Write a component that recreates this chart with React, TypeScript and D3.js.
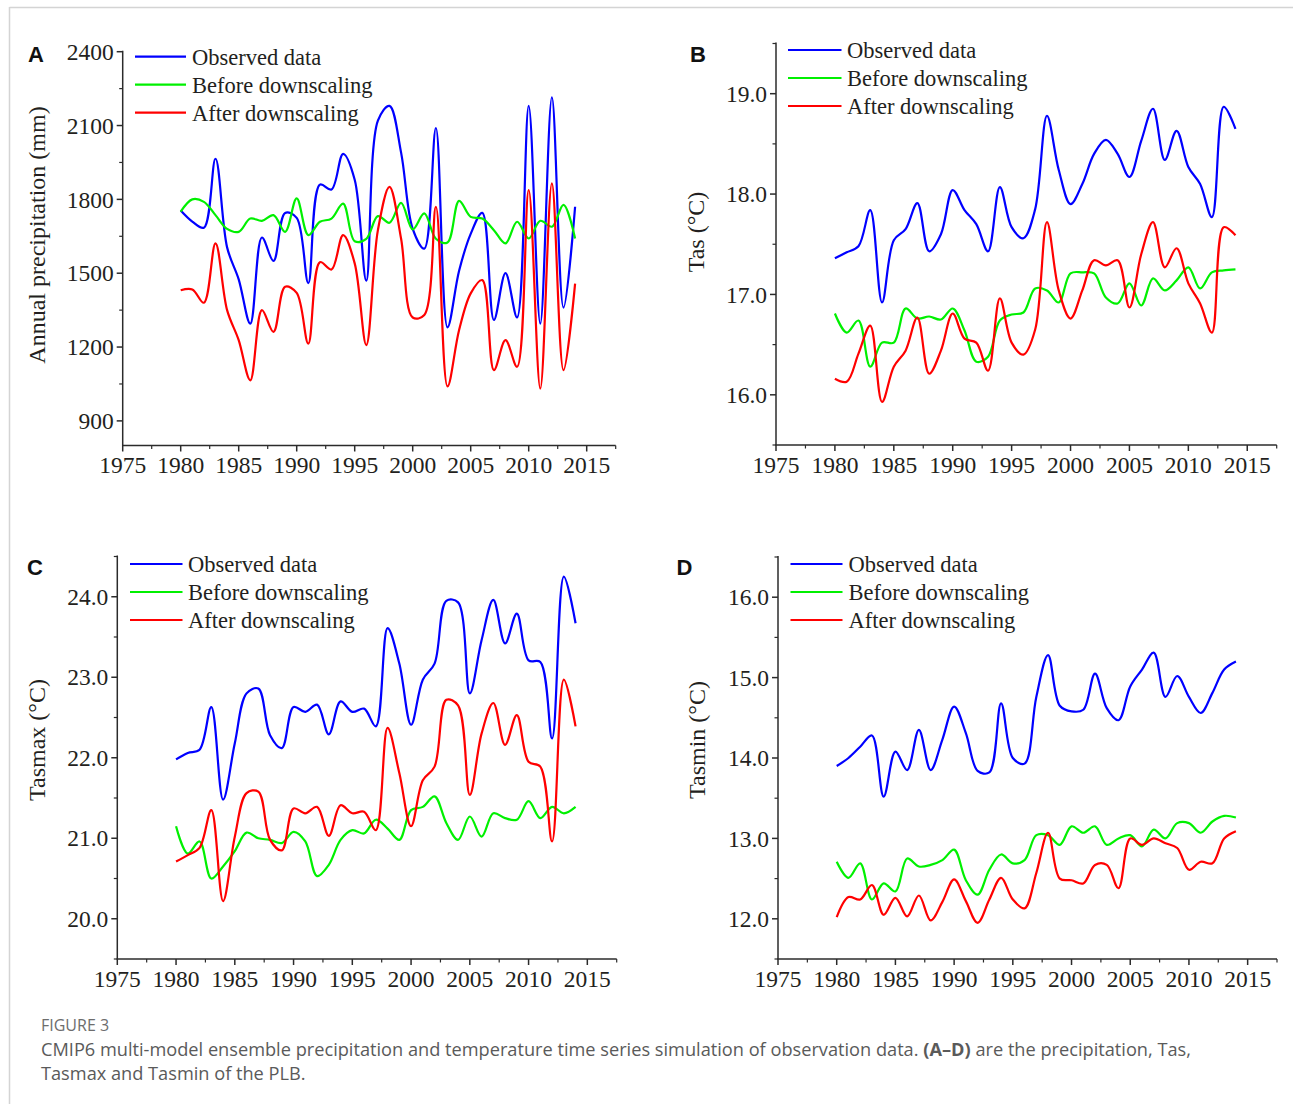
import React from 'react';
import * as d3 from 'd3';

// Years of the simulation period
const years = d3.range(1980, 2015);

// (A) Annual precipitation (mm)
const precipObserved = [
  1755, 1710, 1685, 1965, 1605, 1475, 1295, 1645, 1550, 1745,
  1725, 1460, 1860, 1840, 1985, 1880, 1470, 2120, 2180, 1990,
  1680, 1600, 2090, 1280, 1510, 1660, 1745, 1310, 1500, 1320,
  2180, 1295, 2215, 1360, 1770,
];
const precipBefore = [
  1750, 1800, 1790, 1736, 1680, 1668, 1722, 1713, 1736, 1668,
  1804, 1655, 1709, 1722, 1783, 1630, 1640, 1732, 1705, 1786,
  1678, 1743, 1640, 1625, 1794, 1729, 1722, 1675, 1621, 1709,
  1641, 1713, 1689, 1778, 1641,
];
const precipAfter = [
  1431, 1434, 1380, 1621, 1350, 1228, 1065, 1350, 1262, 1445,
  1420, 1214, 1545, 1515, 1655, 1540, 1208, 1675, 1851, 1640,
  1320, 1330, 1770, 1040, 1269, 1418, 1472, 1106, 1228, 1120,
  1838, 1031, 1865, 1106, 1458,
];

// (B) Tas (°C)
const tasObserved = [
  17.36, 17.42, 17.48, 17.84, 16.92, 17.54, 17.65, 17.91, 17.43, 17.60,
  18.04, 17.84, 17.70, 17.43, 18.07, 17.67, 17.56, 17.85, 18.78, 18.24,
  17.90, 18.10, 18.40, 18.54, 18.40, 18.17, 18.53, 18.85, 18.34, 18.63,
  18.27, 18.10, 17.77, 18.87, 18.65,
];
const tasBefore = [
  16.81, 16.62, 16.74, 16.28, 16.52, 16.52, 16.86, 16.76, 16.78, 16.75,
  16.86, 16.64, 16.33, 16.38, 16.74, 16.80, 16.82, 17.06, 17.04, 16.92,
  17.21, 17.22, 17.21, 16.97, 16.91, 17.11, 16.89, 17.16, 17.04, 17.14,
  17.27, 17.06, 17.22, 17.24, 17.25,
];
const tasAfter = [
  16.16, 16.13, 16.41, 16.69, 15.93, 16.28, 16.44, 16.77, 16.21, 16.44,
  16.81, 16.56, 16.52, 16.24, 16.96, 16.52, 16.40, 16.65, 17.72, 17.04,
  16.76, 17.04, 17.34, 17.29, 17.34, 16.87, 17.40, 17.72, 17.27, 17.46,
  17.11, 16.91, 16.62, 17.67, 17.59,
];

// (C) Tasmax (°C)
const tasmaxObserved = [
  21.98, 22.06, 22.10, 22.63, 21.48, 22.18, 22.80, 22.86, 22.28, 22.12,
  22.63, 22.57, 22.66, 22.29, 22.70, 22.57, 22.61, 22.39, 23.61, 23.17,
  22.41, 22.97, 23.17, 23.95, 23.93, 22.80, 23.46, 23.96, 23.42, 23.79,
  23.21, 23.19, 22.24, 24.25, 23.67,
];
const tasmaxBefore = [
  21.15, 20.81, 20.96, 20.50, 20.65, 20.84, 21.07, 21.00, 20.98, 20.94,
  21.08, 20.96, 20.53, 20.67, 20.98, 21.10, 21.06, 21.23, 21.12, 20.98,
  21.35, 21.39, 21.52, 21.19, 20.98, 21.27, 21.02, 21.31, 21.25, 21.23,
  21.46, 21.25, 21.39, 21.31, 21.39,
];
const tasmaxAfter = [
  20.71, 20.79, 20.88, 21.35, 20.22, 21.02, 21.56, 21.58, 20.98, 20.85,
  21.37, 21.31, 21.39, 21.03, 21.41, 21.31, 21.33, 21.10, 22.37, 21.81,
  21.15, 21.72, 21.89, 22.72, 22.65, 21.54, 22.30, 22.68, 22.16, 22.53,
  21.95, 21.89, 20.96, 22.97, 22.39,
];

// (D) Tasmin (°C)
const tasminObserved = [
  13.90, 14.00, 14.14, 14.28, 13.52, 14.08, 13.85, 14.35, 13.85, 14.23,
  14.64, 14.31, 13.84, 13.82, 14.68, 14.00, 13.93, 14.76, 15.28, 14.65,
  14.58, 14.60, 15.05, 14.62, 14.47, 14.89, 15.10, 15.31, 14.76, 15.02,
  14.76, 14.56, 14.81, 15.10, 15.20,
];
const tasminBefore = [
  12.71, 12.51, 12.69, 12.24, 12.44, 12.34, 12.75, 12.65, 12.67, 12.73,
  12.86, 12.48, 12.30, 12.61, 12.80, 12.69, 12.73, 13.04, 13.04, 12.92,
  13.15, 13.07, 13.15, 12.92, 13.00, 13.04, 12.90, 13.11, 13.00, 13.19,
  13.19, 13.07, 13.21, 13.28, 13.26,
];
const tasminAfter = [
  12.02, 12.27, 12.24, 12.42, 12.05, 12.26, 12.03, 12.29, 11.98, 12.21,
  12.49, 12.22, 11.95, 12.24, 12.51, 12.24, 12.13, 12.57, 13.07, 12.50,
  12.48, 12.44, 12.67, 12.67, 12.38, 13.00, 12.92, 13.00, 12.94, 12.88,
  12.61, 12.71, 12.69, 13.00, 13.09,
];

// Axis ticks
const xMajorTicks = [1975, 1980, 1985, 1990, 1995, 2000, 2005, 2010, 2015];
const xMinorTicks = [1977.5, 1982.5, 1987.5, 1992.5, 1997.5, 2002.5, 2007.5, 2012.5, 2017.5];
const precipMajorTicks = [900, 1200, 1500, 1800, 2100, 2400];
const precipMinorTicks = [1050, 1350, 1650, 1950, 2250];
const tasMajorTicks = [16, 17, 18, 19];
const tasMinorTicks = [15.5, 16.5, 17.5, 18.5, 19.5];
const tasmaxMajorTicks = [20, 21, 22, 23, 24];
const tasmaxMinorTicks = [19.5, 20.5, 21.5, 22.5, 23.5, 24.5];
const tasminMajorTicks = [12, 13, 14, 15, 16];
const tasminMinorTicks = [11.5, 12.5, 13.5, 14.5, 15.5, 16.5];

const seriesNames = ['Observed data', 'Before downscaling', 'After downscaling'];
const seriesColors = ['#0000ff', '#00f000', '#ff0000'];

const SERIF = '"Liberation Serif", "Times New Roman", serif';
const SANS = '"Liberation Sans", Arial, sans-serif';
const CAPTION_FONT = '"Open Sans", "Noto Sans", sans-serif';
const INK = '#231f20';

type PanelSpec = {
  letter: string;
  letterX: number;
  letterY: number;
  title: string;
  titleX: number;
  titleY: number;
  xLeft: number;
  xRight: number;
  yBottom: number;
  yTop: number;
  yDomain: [number, number];
  yMajor: number[];
  yMinor: number[];
  yFormat: (v: number) => string;
  legendX0: number;
  legendX1: number;
  legendTextX: number;
  legendY0: number;
  series: number[][];
};

const panels: PanelSpec[] = [
  {
    letter: 'A', letterX: 28, letterY: 62,
    title: 'Annual precipitation (mm)', titleX: 36.5, titleY: 235,
    xLeft: 122.7, xRight: 615.7, yBottom: 445.5, yTop: 51.7,
    yDomain: [800, 2400], yMajor: precipMajorTicks, yMinor: precipMinorTicks,
    yFormat: d3.format('d'),
    legendX0: 135, legendX1: 186, legendTextX: 192, legendY0: 56.7,
    series: [precipObserved, precipBefore, precipAfter],
  },
  {
    letter: 'B', letterX: 690, letterY: 62,
    title: 'Tas (°C)', titleX: 695.5, titleY: 232,
    xLeft: 776, xRight: 1276.7, yBottom: 445, yTop: 43.5,
    yDomain: [15.5, 19.5], yMajor: tasMajorTicks, yMinor: tasMinorTicks,
    yFormat: d3.format('.1f'),
    legendX0: 788, legendX1: 841.5, legendTextX: 847, legendY0: 50,
    series: [tasObserved, tasBefore, tasAfter],
  },
  {
    letter: 'C', letterX: 27, letterY: 575,
    title: 'Tasmax (°C)', titleX: 36.5, titleY: 740,
    xLeft: 117.3, xRight: 616.7, yBottom: 959, yTop: 556.5,
    yDomain: [19.5, 24.5], yMajor: tasmaxMajorTicks, yMinor: tasmaxMinorTicks,
    yFormat: d3.format('.1f'),
    legendX0: 130, legendX1: 182.5, legendTextX: 188, legendY0: 564,
    series: [tasmaxObserved, tasmaxBefore, tasmaxAfter],
  },
  {
    letter: 'D', letterX: 676.5, letterY: 575,
    title: 'Tasmin (°C)', titleX: 696.5, titleY: 740,
    xLeft: 778, xRight: 1277, yBottom: 959, yTop: 557,
    yDomain: [11.5, 16.5], yMajor: tasminMajorTicks, yMinor: tasminMinorTicks,
    yFormat: d3.format('.1f'),
    legendX0: 790.5, legendX1: 842.5, legendTextX: 848.5, legendY0: 564,
    series: [tasminObserved, tasminBefore, tasminAfter],
  },
];

function Panel({ p }: { p: PanelSpec }) {
  const x = d3.scaleLinear().domain([1975, 2017.5]).range([p.xLeft, p.xRight]);
  const y = d3.scaleLinear().domain(p.yDomain).range([p.yBottom, p.yTop]);
  const line = d3
    .line<number>()
    .x((_, i) => x(years[i]))
    .y((d) => y(d))
    .curve(d3.curveCatmullRom.alpha(0.5));
  const axisColor = '#2b2b2b';
  const x0 = x(1975);
  const y0 = y(p.yDomain[0]);
  const yMax = y(p.yDomain[1]);

  return (
    <g>
      {/* data lines */}
      {p.series.map((vals, i) => (
        <path
          key={i}
          d={line(vals) ?? ''}
          fill="none"
          stroke={seriesColors[i]}
          strokeWidth={2.2}
          strokeLinejoin="round"
        />
      ))}

      {/* y axis */}
      <line x1={x0} x2={x0} y1={y0} y2={yMax - 1} stroke={axisColor} strokeWidth={1.5} />
      {p.yMajor.map((t) => (
        <g key={'ym' + t}>
          <line x1={x0 - 6} x2={x0} y1={y(t)} y2={y(t)} stroke={axisColor} strokeWidth={1.5} />
          <text
            x={x0 - 9}
            y={y(t)}
            dy="0.35em"
            textAnchor="end"
            fontFamily={SERIF}
            fontSize={23.5}
            fill={INK}
          >
            {p.yFormat(t)}
          </text>
        </g>
      ))}
      {p.yMinor.map((t) => (
        <line key={'yn' + t} x1={x0 - 3.5} x2={x0} y1={y(t)} y2={y(t)} stroke={axisColor} strokeWidth={1.2} />
      ))}

      {/* x axis */}
      <line x1={x0 - 0.75} x2={x(2017.5)} y1={y0} y2={y0} stroke={axisColor} strokeWidth={1.5} />
      {xMajorTicks.map((t) => (
        <g key={'xm' + t}>
          <line x1={x(t)} x2={x(t)} y1={y0} y2={y0 + 6} stroke={axisColor} strokeWidth={1.5} />
          <text
            x={x(t)}
            y={y0 + 27.5}
            textAnchor="middle"
            fontFamily={SERIF}
            fontSize={23.5}
            fill={INK}
          >
            {t}
          </text>
        </g>
      ))}
      {xMinorTicks.map((t) => (
        <line key={'xn' + t} x1={x(t)} x2={x(t)} y1={y0} y2={y0 + 3.5} stroke={axisColor} strokeWidth={1.2} />
      ))}

      {/* axis title */}
      <text
        transform={`translate(${p.titleX},${p.titleY}) rotate(-90)`}
        textAnchor="middle"
        dy="0.35em"
        fontFamily={SERIF}
        fontSize={24}
        fill={INK}
      >
        {p.title}
      </text>

      {/* legend */}
      {seriesNames.map((name, i) => {
        const ly = p.legendY0 + i * 28;
        return (
          <g key={name}>
            <line x1={p.legendX0} x2={p.legendX1} y1={ly} y2={ly} stroke={seriesColors[i]} strokeWidth={2.2} />
            <text x={p.legendTextX} y={ly + 8} fontFamily={SERIF} fontSize={22.5} fill={INK}>
              {name}
            </text>
          </g>
        );
      })}

      {/* panel letter */}
      <text x={p.letterX} y={p.letterY} fontFamily={SANS} fontWeight="bold" fontSize={22} fill="#111">
        {p.letter}
      </text>
    </g>
  );
}

export default function App() {
  const W = 1293;
  const H = 1104;
  return (
    <svg
      width={W}
      height={H}
      viewBox={`0 0 ${W} ${H}`}
      style={{ position: 'absolute', left: 0, top: 0, background: '#fff' }}
    >
      <rect x={0} y={0} width={W} height={H} fill="#fff" />
      {/* frame */}
      <line x1={9.5} x2={W} y1={7.5} y2={7.5} stroke="#d4d4d4" strokeWidth={1.5} />
      <line x1={9.5} x2={9.5} y1={7} y2={H} stroke="#d4d4d4" strokeWidth={1.5} />

      {panels.map((p) => (
        <Panel key={p.letter} p={p} />
      ))}

      {/* caption */}
      <text x={41} y={1031} fontFamily={CAPTION_FONT} fontSize={16} fill="#6d6d6d">
        FIGURE 3
      </text>
      <text x={41} y={1056} fontFamily={CAPTION_FONT} fontSize={18.2} fill="#5a5a5a">
        CMIP6 multi-model ensemble precipitation and temperature time series simulation of observation data.{' '}
        <tspan fontWeight="bold">(A–D)</tspan> are the precipitation, Tas,
      </text>
      <text x={41} y={1080} fontFamily={CAPTION_FONT} fontSize={18.2} fill="#5a5a5a">
        Tasmax and Tasmin of the PLB.
      </text>
    </svg>
  );
}
